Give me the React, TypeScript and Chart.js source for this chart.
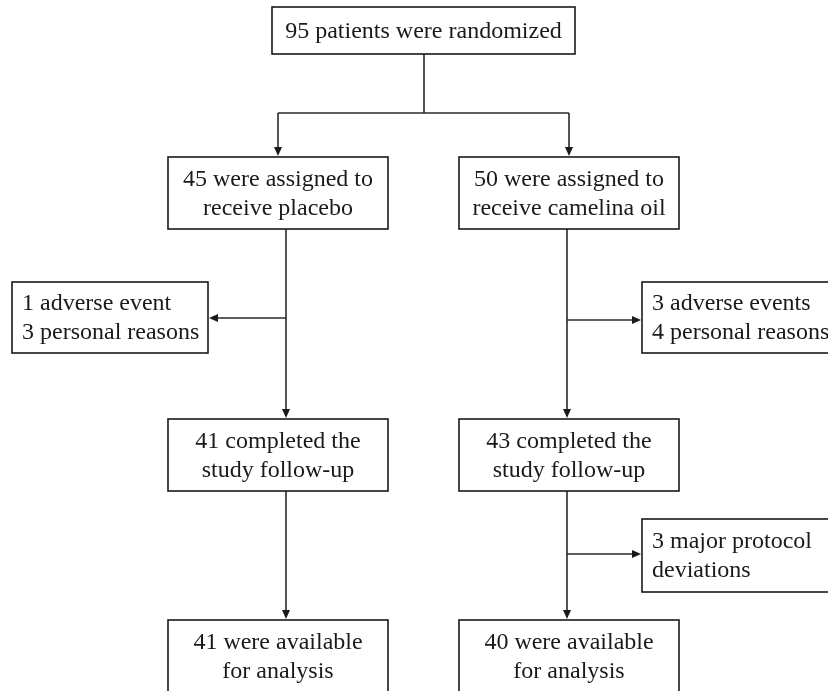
import React, { useEffect, useRef } from "react";
import { Chart, registerables } from "chart.js";

Chart.register(...registerables);

// ---- content (data) ----
const boxTexts: string[][] = [
  ["95 patients were randomized"],
  ["45 were assigned to", "receive placebo"],
  ["50 were assigned to", "receive camelina oil"],
  ["1 adverse event", "3 personal reasons"],
  ["3 adverse events", "4 personal reasons"],
  ["41 completed the", "study follow-up"],
  ["43 completed the", "study follow-up"],
  ["3 major protocol", "deviations"],
  ["41 were available", "for analysis"],
  ["40 were available", "for analysis"],
];
const boxAlign: ("center" | "left")[] = [
  "center", "center", "center", "left", "left", "center", "center", "left", "center", "center",
];

// ---- layout in chart units (x: 0..828, y: 0..691 top-down) ----
const boxLeft = [272, 168, 459, 12, 642, 168, 459, 642, 168, 459];
const boxRight = [575, 388, 679, 208, 860, 388, 679, 860, 388, 679];
const boxTop = [7, 157, 157, 282, 282, 419, 419, 519, 620, 620];
const boxBottom = [54, 229, 229, 353, 353, 491, 491, 592, 692, 692];

// connectors
const linkX1 = [424, 278, 278, 569, 286, 286, 567, 567, 286, 567, 567];
const linkY1 = [54, 113, 113, 113, 229, 318, 229, 320, 491, 491, 554];
const linkX2 = [424, 569, 278, 569, 286, 209, 567, 641, 286, 567, 641];
const linkY2 = [113, 113, 156, 156, 418, 318, 418, 320, 619, 619, 554];
const linkArrow = [false, false, true, true, true, true, true, true, true, true, true];

const flowPlugin = {
  id: "flow",
  afterDraw(chart: any) {
    const ctx: CanvasRenderingContext2D = chart.ctx;
    const xs = chart.scales.x;
    const ys = chart.scales.y;
    const px = (v: number) => xs.getPixelForValue(v);
    const py = (v: number) => ys.getPixelForValue(v);
    ctx.save();
    ctx.strokeStyle = "#2a2a2a";
    ctx.fillStyle = "#1a1a1a";
    ctx.lineWidth = 1.6;
    for (let i = 0; i < linkX1.length; i++) {
      const x1 = px(linkX1[i]), y1 = py(linkY1[i]);
      const x2 = px(linkX2[i]), y2 = py(linkY2[i]);
      const ang = Math.atan2(y2 - y1, x2 - x1);
      const L = 9, W = 4;
      const ex = linkArrow[i] ? x2 - Math.cos(ang) * L : x2;
      const ey = linkArrow[i] ? y2 - Math.sin(ang) * L : y2;
      ctx.beginPath();
      ctx.moveTo(x1, y1);
      ctx.lineTo(ex, ey);
      ctx.stroke();
      if (linkArrow[i]) {
        ctx.beginPath();
        ctx.moveTo(x2, y2);
        ctx.lineTo(ex - Math.sin(ang) * W, ey + Math.cos(ang) * W);
        ctx.lineTo(ex + Math.sin(ang) * W, ey - Math.cos(ang) * W);
        ctx.closePath();
        ctx.fill();
      }
    }
    ctx.strokeStyle = "#1a1a1a";
    ctx.lineWidth = 1.6;
    ctx.font = '24px "Liberation Serif", "Times New Roman", serif';
    ctx.textBaseline = "alphabetic";
    const lh = 29;
    for (let i = 0; i < boxTexts.length; i++) {
      const l = px(boxLeft[i]), r = px(boxRight[i]);
      const t = py(boxTop[i]), b = py(boxBottom[i]);
      ctx.fillStyle = "#fff";
      ctx.fillRect(l, t, r - l, b - t);
      ctx.strokeRect(l, t, r - l, b - t);
      ctx.fillStyle = "#1a1a1a";
      const lines = boxTexts[i];
      const cy = (t + b) / 2;
      const tx = boxAlign[i] === "center" ? (l + r) / 2 : l + 10;
      ctx.textAlign = boxAlign[i];
      lines.forEach((s, k) => {
        const yy = cy - ((lines.length - 1) * lh) / 2 + k * lh + 7;
        ctx.fillText(s, tx, yy);
      });
    }
    ctx.restore();
  },
};

export default function App() {
  const ref = useRef<HTMLCanvasElement>(null);
  useEffect(() => {
    document.body.style.margin = "0";
    document.body.style.background = "#fff";
    const chart = new Chart(ref.current!, {
      type: "scatter",
      data: { datasets: [{ data: [] }] },
      options: {
        animation: false,
        responsive: false,
        layout: { padding: 0 },
        plugins: { legend: { display: false }, tooltip: { enabled: false } },
        scales: {
          x: { type: "linear", min: 0, max: 828, display: false },
          y: { type: "linear", min: 0, max: 691, reverse: true, display: false },
        },
      },
      plugins: [flowPlugin],
    });
    return () => chart.destroy();
  }, []);
  return (
    <div style={{ width: 828, height: 691, background: "#fff" }}>
      <canvas ref={ref} width={828} height={691} style={{ display: "block" }} />
    </div>
  );
}
